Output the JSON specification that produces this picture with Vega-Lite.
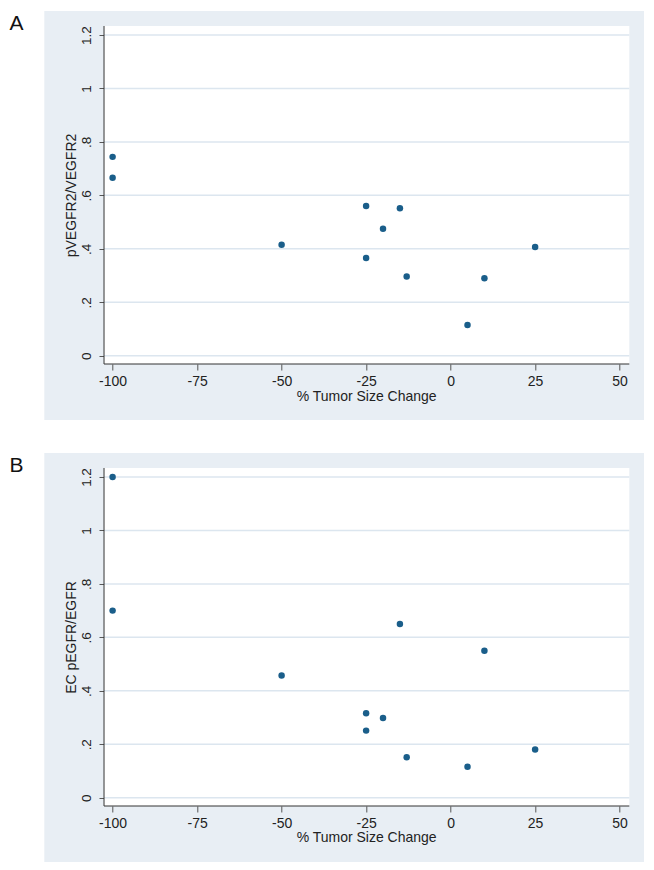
{
  "$schema": "https://vega.github.io/schema/vega-lite/v6.json",
  "background": "white",
  "padding": {"left": 9.3, "top": 11, "right": 0, "bottom": 0},
  "spacing": 33,
  "config": {
    "view": {"fill": "#E8EEF4", "stroke": null},
    "font": "Liberation Sans"
  },
  "datasets": {
    "a": [
      {"change": -100, "ratio": 0.744},
      {"change": -100, "ratio": 0.666},
      {"change": -50, "ratio": 0.415},
      {"change": -25, "ratio": 0.56},
      {"change": -25, "ratio": 0.366},
      {"change": -20, "ratio": 0.475},
      {"change": -15, "ratio": 0.552},
      {"change": -13, "ratio": 0.296},
      {"change": 5, "ratio": 0.115},
      {"change": 10, "ratio": 0.29},
      {"change": 25, "ratio": 0.407}
    ],
    "b": [
      {"change": -100, "ratio": 1.2},
      {"change": -100, "ratio": 0.70},
      {"change": -50, "ratio": 0.457},
      {"change": -25, "ratio": 0.316},
      {"change": -25, "ratio": 0.251},
      {"change": -20, "ratio": 0.298},
      {"change": -15, "ratio": 0.65},
      {"change": -13, "ratio": 0.151},
      {"change": 5, "ratio": 0.116},
      {"change": 10, "ratio": 0.55},
      {"change": 25, "ratio": 0.18}
    ],
    "ticks": [{"tick": 0}, {"tick": 0.2}, {"tick": 0.4}, {"tick": 0.6}, {"tick": 0.8}, {"tick": 1.0}, {"tick": 1.2}],
    "one": [{}]
  },
  "vconcat": [
    {
      "width": 600,
      "height": 409,
      "layer": [
        {
          "data": {"name": "one"},
          "mark": {"type": "rect", "fill": "white"},
          "encoding": {
            "x": {"datum": -102.54, "type": "quantitative", "scale": {"domain": [-120.21, 57.30], "nice": false, "zero": false}},
            "x2": {"datum": 52.87},
            "y": {"datum": -0.0311, "type": "quantitative", "scale": {"domain": [-0.2406, 1.2898], "nice": false, "zero": false}},
            "y2": {"datum": 1.2337}
          }
        },
        {
          "data": {"name": "ticks"},
          "mark": {"type": "rule", "color": "#DCE6EF", "strokeWidth": 1.5},
          "encoding": {
            "y": {"field": "tick", "type": "quantitative", "scale": {"domain": [-0.2406, 1.2898], "nice": false, "zero": false}},
            "x": {"datum": -102.54, "type": "quantitative", "scale": {"domain": [-120.21, 57.30], "nice": false, "zero": false}},
            "x2": {"datum": 52.87}
          }
        },
        {
          "data": {"name": "one"},
          "mark": {"type": "rule", "color": "#333333", "strokeWidth": 1},
          "encoding": {
            "x": {"datum": -102.54, "type": "quantitative", "scale": {"domain": [-120.21, 57.30], "nice": false, "zero": false}},
            "y": {"datum": -0.0311, "type": "quantitative", "scale": {"domain": [-0.2406, 1.2898], "nice": false, "zero": false}},
            "y2": {"datum": 1.2337}
          }
        },
        {
          "data": {"name": "one"},
          "mark": {"type": "rule", "color": "#333333", "strokeWidth": 1},
          "encoding": {
            "y": {"datum": -0.0311, "type": "quantitative", "scale": {"domain": [-0.2406, 1.2898], "nice": false, "zero": false}},
            "x": {"datum": -102.54, "type": "quantitative", "scale": {"domain": [-120.21, 57.30], "nice": false, "zero": false}},
            "x2": {"datum": 52.87}
          }
        },
        {
          "data": {"name": "one"},
          "mark": {"type": "text", "text": "A", "align": "left", "baseline": "alphabetic", "font": "Liberation Sans", "fontSize": 21, "color": "#111111"},
          "encoding": {
            "x": {"datum": -130.48, "type": "quantitative", "scale": {"domain": [-120.21, 57.30], "nice": false, "zero": false}},
            "y": {"datum": 1.2187, "type": "quantitative", "scale": {"domain": [-0.2406, 1.2898], "nice": false, "zero": false}}
          }
        },
        {
          "data": {"name": "a"},
          "mark": {"type": "circle", "size": 42, "color": "#1A5E8A", "opacity": 1},
          "encoding": {
            "x": {
              "field": "change", "type": "quantitative",
              "scale": {"domain": [-120.21, 57.30], "nice": false, "zero": false},
              "axis": {
                "offset": -56, "values": [-100, -75, -50, -25, 0, 25, 50], "grid": false, "domain": false,
                "ticks": true, "tickSize": 6, "tickColor": "#555555", "tickWidth": 1,
                "labelExpr": "'' + datum.value", "labelFont": "Liberation Sans", "labelFontSize": 14, "labelColor": "#222222",
                "labelBaseline": "alphabetic", "labelPadding": 15.5, "labelAngle": 0, "labelFlush": false, "labelOverlap": false,
                "title": "% Tumor Size Change", "titleFont": "Liberation Sans", "titleFontSize": 14, "titleFontWeight": "normal", "titleColor": "#222222",
                "titleX": 321.8, "titleY": 36, "titleBaseline": "alphabetic", "titleAlign": "center"
              }
            },
            "y": {
              "field": "ratio", "type": "quantitative",
              "scale": {"domain": [-0.2406, 1.2898], "nice": false, "zero": false},
              "axis": {
                "offset": -59.7, "values": [0, 0.2, 0.4, 0.6, 0.8, 1.0, 1.2], "format": ".1~f", "grid": false, "domain": false,
                "ticks": true, "tickSize": 5, "tickColor": "#555555", "tickWidth": 1,
                "labelExpr": "datum.value > 0 && datum.value < 1 ? substring(datum.label, 1) : datum.label",
                "labelFont": "Liberation Sans", "labelFontSize": 13.5, "labelColor": "#222222",
                "labelAngle": -90, "labelAlign": "center", "labelBaseline": "alphabetic", "labelPadding": 8, "labelFlush": false, "labelOverlap": false,
                "title": "pVEGFR2/VEGFR2", "titleFont": "Liberation Sans", "titleFontSize": 14, "titleFontWeight": "normal", "titleColor": "#222222",
                "titleAngle": -90, "titleX": -28.2, "titleY": 184, "titleBaseline": "alphabetic", "titleAlign": "center"
              }
            }
          }
        }
      ]
    },
    {
      "width": 600,
      "height": 409,
      "layer": [
        {
          "data": {"name": "one"},
          "mark": {"type": "rect", "fill": "white"},
          "encoding": {
            "x": {"datum": -102.54, "type": "quantitative", "scale": {"domain": [-120.21, 57.30], "nice": false, "zero": false}},
            "x2": {"datum": 52.87},
            "y": {"datum": -0.0311, "type": "quantitative", "scale": {"domain": [-0.2406, 1.2898], "nice": false, "zero": false}},
            "y2": {"datum": 1.2337}
          }
        },
        {
          "data": {"name": "ticks"},
          "mark": {"type": "rule", "color": "#DCE6EF", "strokeWidth": 1.5},
          "encoding": {
            "y": {"field": "tick", "type": "quantitative", "scale": {"domain": [-0.2406, 1.2898], "nice": false, "zero": false}},
            "x": {"datum": -102.54, "type": "quantitative", "scale": {"domain": [-120.21, 57.30], "nice": false, "zero": false}},
            "x2": {"datum": 52.87}
          }
        },
        {
          "data": {"name": "one"},
          "mark": {"type": "rule", "color": "#333333", "strokeWidth": 1},
          "encoding": {
            "x": {"datum": -102.54, "type": "quantitative", "scale": {"domain": [-120.21, 57.30], "nice": false, "zero": false}},
            "y": {"datum": -0.0311, "type": "quantitative", "scale": {"domain": [-0.2406, 1.2898], "nice": false, "zero": false}},
            "y2": {"datum": 1.2337}
          }
        },
        {
          "data": {"name": "one"},
          "mark": {"type": "rule", "color": "#333333", "strokeWidth": 1},
          "encoding": {
            "y": {"datum": -0.0311, "type": "quantitative", "scale": {"domain": [-0.2406, 1.2898], "nice": false, "zero": false}},
            "x": {"datum": -102.54, "type": "quantitative", "scale": {"domain": [-120.21, 57.30], "nice": false, "zero": false}},
            "x2": {"datum": 52.87}
          }
        },
        {
          "data": {"name": "one"},
          "mark": {"type": "text", "text": "B", "align": "left", "baseline": "alphabetic", "font": "Liberation Sans", "fontSize": 21, "color": "#111111"},
          "encoding": {
            "x": {"datum": -130.48, "type": "quantitative", "scale": {"domain": [-120.21, 57.30], "nice": false, "zero": false}},
            "y": {"datum": 1.2187, "type": "quantitative", "scale": {"domain": [-0.2406, 1.2898], "nice": false, "zero": false}}
          }
        },
        {
          "data": {"name": "b"},
          "mark": {"type": "circle", "size": 42, "color": "#1A5E8A", "opacity": 1},
          "encoding": {
            "x": {
              "field": "change", "type": "quantitative",
              "scale": {"domain": [-120.21, 57.30], "nice": false, "zero": false},
              "axis": {
                "offset": -56, "values": [-100, -75, -50, -25, 0, 25, 50], "grid": false, "domain": false,
                "ticks": true, "tickSize": 6, "tickColor": "#555555", "tickWidth": 1,
                "labelExpr": "'' + datum.value", "labelFont": "Liberation Sans", "labelFontSize": 14, "labelColor": "#222222",
                "labelBaseline": "alphabetic", "labelPadding": 15.5, "labelAngle": 0, "labelFlush": false, "labelOverlap": false,
                "title": "% Tumor Size Change", "titleFont": "Liberation Sans", "titleFontSize": 14, "titleFontWeight": "normal", "titleColor": "#222222",
                "titleX": 321.8, "titleY": 36, "titleBaseline": "alphabetic", "titleAlign": "center"
              }
            },
            "y": {
              "field": "ratio", "type": "quantitative",
              "scale": {"domain": [-0.2406, 1.2898], "nice": false, "zero": false},
              "axis": {
                "offset": -59.7, "values": [0, 0.2, 0.4, 0.6, 0.8, 1.0, 1.2], "format": ".1~f", "grid": false, "domain": false,
                "ticks": true, "tickSize": 5, "tickColor": "#555555", "tickWidth": 1,
                "labelExpr": "datum.value > 0 && datum.value < 1 ? substring(datum.label, 1) : datum.label",
                "labelFont": "Liberation Sans", "labelFontSize": 13.5, "labelColor": "#222222",
                "labelAngle": -90, "labelAlign": "center", "labelBaseline": "alphabetic", "labelPadding": 8, "labelFlush": false, "labelOverlap": false,
                "title": "EC pEGFR/EGFR", "titleFont": "Liberation Sans", "titleFontSize": 14, "titleFontWeight": "normal", "titleColor": "#222222",
                "titleAngle": -90, "titleX": -28.2, "titleY": 184, "titleBaseline": "alphabetic", "titleAlign": "center"
              }
            }
          }
        }
      ]
    }
  ]
}
